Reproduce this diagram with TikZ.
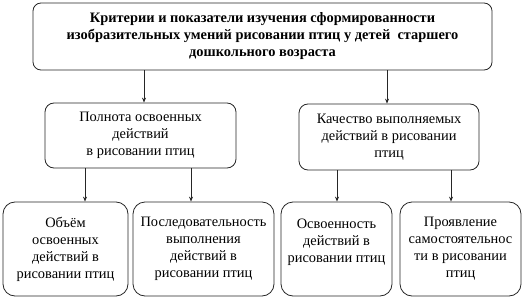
\documentclass[tikz,border=0pt]{standalone}
\usepackage{fontspec}
\setmainfont{Liberation Serif}
\usetikzlibrary{arrows.meta}
\begin{document}
\begin{tikzpicture}[x=1pt, y=-1pt, >={Stealth[length=5pt,width=4pt]}, font=\fontsize{14.4}{17}\selectfont]
      \tikzset{box/.style={draw=black!85, line width=0.8pt, rounded corners=9pt, align=center, inner sep=0pt}}
      \useasboundingbox (0,0) rectangle (526,299);
      \node[box, rounded corners=8pt, minimum width=459pt, minimum height=67pt, font=\fontsize{14.4}{17}\selectfont\bfseries] (crit) at (262.5,36.5) {Критерии и показатели изучения сформированности\\изобразительных умений рисовании птиц у детей\ \ старшего\\дошкольного возраста};
      \node[box, minimum width=191pt, minimum height=65pt] (full) at (140.5,135.5) {Полнота освоенных\\действий\\в рисовании птиц};
      \node[box, minimum width=180pt, minimum height=66pt] (qual) at (389,137) {Качество выполняемых\\действий в рисовании\\птиц};
      \node[box, rounded corners=12pt, minimum width=125pt, minimum height=94pt] (vol) at (65.5,249) {Объём\\освоенных\\действий в\\рисовании птиц};
      \node[box, rounded corners=12pt, minimum width=141pt, minimum height=94pt] (seq) at (203.5,249) {Последовательность\\выполнения\\действий в\\рисовании птиц};
      \node[box, rounded corners=12pt, minimum width=111pt, minimum height=94pt] (mast) at (336.5,249) {Освоенность\\действий в\\рисовании птиц\\ \phantom{x}};
      \node[box, rounded corners=12pt, minimum width=121pt, minimum height=94pt] (indep) at (460.5,249) {Проявление\\самостоятельнос\\ти в рисовании\\птиц};
      \draw[->, black!85, line width=0.8pt] (crit.south -| 144,0) -- (full.north -| 144,0);
      \draw[->, black!85, line width=0.8pt] (crit.south -| 387,0) -- (qual.north -| 387,0);
      \draw[->, black!85, line width=0.8pt] (full.south -| 85,0) -- (vol.north -| 85,0);
      \draw[->, black!85, line width=0.8pt] (full.south -| 191,0) -- (seq.north -| 191,0);
      \draw[->, black!85, line width=0.8pt] (qual.south -| 337,0) -- (mast.north -| 337,0);
      \draw[->, black!85, line width=0.8pt] (qual.south -| 451,0) -- (indep.north -| 451,0);
    \end{tikzpicture}
\end{document}
